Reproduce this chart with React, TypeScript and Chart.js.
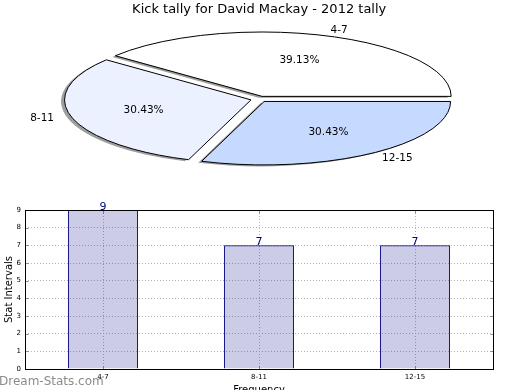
import React, { useEffect, useRef } from 'react';
import { Chart, registerables } from 'chart.js';

Chart.register(...registerables);

// ---- data ----
const chartTitle = 'Kick tally for David Mackay - 2012 tally';
const categories = ['4-7', '8-11', '12-15'];
const tally = [9, 7, 7];
const yMin = 0;
const yMax = 9;
const yStep = 1;
const yAxisTitle = 'Stat Intervals';
const xAxisTitle = 'Frequency';
const watermark = 'Dream-Stats.com';

// ---- styles ----
const pieColors = ['#FFFFFF', '#EBF1FF', '#C6D9FF'];
const FONT = '"DejaVu Sans", sans-serif';
const ELLIPSE_K = 64 / 188;
const NAVY = '#000080';

function ellipseTransform(ctx: CanvasRenderingContext2D, cx: number, cy: number) {
  ctx.translate(cx, cy);
  ctx.scale(1, -ELLIPSE_K);
  ctx.translate(-cx, -cy);
}

const pieEllipsePlugin = {
  id: 'pieEllipse',
  beforeDatasetsDraw(chart: any) {
    const arcs = chart.getDatasetMeta(0).data;
    const ctx: CanvasRenderingContext2D = chart.ctx;
    ctx.save();
    ellipseTransform(ctx, arcs[0].x, arcs[0].y);
    ctx.shadowColor = 'rgba(40,40,40,0.45)';
    ctx.shadowOffsetX = -3.5;
    ctx.shadowOffsetY = 1.5;
    ctx.shadowBlur = 0.5;
  },
  afterDatasetsDraw(chart: any) {
    const ctx: CanvasRenderingContext2D = chart.ctx;
    ctx.restore();
    const ds = chart.data.datasets[0];
    const values: number[] = ds.data;
    const total = values.reduce((a, b) => a + b, 0);
    const labels: string[] = chart.data.labels;
    const arcs = chart.getDatasetMeta(0).data;
    arcs.forEach((arc: any, i: number) => {
      const { x, y, startAngle, endAngle, outerRadius } = arc;
      const off = (arc.options.offset || 0) / 4;
      const h = (startAngle + endAngle) / 2;
      const fix = 1 - Math.sin(Math.min(Math.PI, endAngle - startAngle));
      const r = outerRadius + off * fix;
      // outline with uniform line width
      ctx.save();
      ellipseTransform(ctx, x, y);
      ctx.translate(Math.cos(h) * off, Math.sin(h) * off);
      ctx.beginPath();
      ctx.moveTo(x, y);
      ctx.arc(x, y, r, startAngle, endAngle);
      ctx.closePath();
      ctx.restore();
      ctx.save();
      ctx.lineWidth = 1;
      ctx.strokeStyle = '#000';
      ctx.stroke();
      ctx.restore();
      // labels
      const wx = x + Math.cos(h) * off;
      const wy = y - ELLIPSE_K * Math.sin(h) * off;
      const R = outerRadius;
      ctx.save();
      ctx.fillStyle = '#000';
      ctx.font = `10.5px ${FONT}`;
      ctx.textBaseline = 'middle';
      const lx = wx + 1.1 * R * Math.cos(h);
      const ly = wy - ELLIPSE_K * 1.1 * R * Math.sin(h);
      ctx.textAlign = Math.cos(h) > 0 ? 'left' : 'right';
      ctx.fillText(labels[i], lx, ly);
      const px = wx + 0.6 * R * Math.cos(h);
      const py = wy - ELLIPSE_K * 0.6 * R * Math.sin(h);
      ctx.textAlign = 'center';
      ctx.fillText(((values[i] / total) * 100).toFixed(2) + '%', px, py);
      ctx.restore();
    });
  },
};

const barDecorPlugin = {
  id: 'barDecor',
  beforeDraw(chart: any) {
    const ctx: CanvasRenderingContext2D = chart.ctx;
    ctx.save();
    ctx.fillStyle = '#8c8c8c';
    ctx.font = `12px ${FONT}`;
    ctx.textAlign = 'left';
    ctx.textBaseline = 'alphabetic';
    ctx.fillText(watermark, -1, 195);
    ctx.restore();
  },
  afterDatasetsDraw(chart: any) {
    const ctx: CanvasRenderingContext2D = chart.ctx;
    const area = chart.chartArea;
    const meta = chart.getDatasetMeta(0);
    const values: number[] = chart.data.datasets[0].data;
    ctx.save();
    ctx.fillStyle = NAVY;
    ctx.font = `11px ${FONT}`;
    ctx.textAlign = 'center';
    ctx.textBaseline = 'alphabetic';
    meta.data.forEach((bar: any, i: number) => {
      ctx.fillText(String(values[i]), bar.x, bar.y - 0.5);
    });
    ctx.restore();
    // tick marks inside
    const ys = chart.scales.y;
    const xs = chart.scales.x;
    const L = Math.round(area.left) + 0.5;
    const Rr = Math.round(area.right) + 0.5;
    const T = Math.round(area.top) + 0.5;
    const B = Math.round(area.bottom) + 0.5;
    ctx.save();
    ctx.strokeStyle = '#444';
    ctx.lineWidth = 0.6;
    ctx.beginPath();
    ys.ticks.forEach((t: any) => {
      const py = Math.round(ys.getPixelForValue(t.value)) + 0.5;
      ctx.moveTo(L, py); ctx.lineTo(L + 3, py);
      ctx.moveTo(Rr, py); ctx.lineTo(Rr - 3, py);
    });
    xs.ticks.forEach((t: any, i: number) => {
      const px = Math.round(xs.getPixelForTick(i)) + 0.5;
      ctx.moveTo(px, B); ctx.lineTo(px, B - 3);
      ctx.moveTo(px, T); ctx.lineTo(px, T + 3);
    });
    ctx.stroke();
    ctx.restore();
    // frame
    ctx.save();
    ctx.strokeStyle = '#000';
    ctx.lineWidth = 1;
    ctx.strokeRect(L, T, Rr - L, B - T);
    ctx.restore();
  },
};

export default function App() {
  const pieRef = useRef<HTMLCanvasElement>(null);
  const barRef = useRef<HTMLCanvasElement>(null);

  useEffect(() => {
    const pie = new Chart(pieRef.current as HTMLCanvasElement, {
      type: 'pie',
      data: {
        labels: categories,
        datasets: [
          {
            data: tally,
            backgroundColor: pieColors,
            borderWidth: 0,
            offset: 34,
            hoverOffset: 0,
            rotation: 90,
            radius: 186,
            clip: false,
          } as any,
        ],
      },
      options: {
        responsive: false,
        animation: false,
        devicePixelRatio: 1,
        events: [],
        layout: { padding: { top: 0, left: 0, right: 1.6, bottom: 9.4 } },
        plugins: {
          legend: { display: false },
          tooltip: { enabled: false },
          title: {
            display: true,
            text: chartTitle,
            color: '#000',
            font: { family: FONT, size: 13, weight: 'normal' },
            padding: { top: 2, bottom: 0 },
          },
        },
      } as any,
      plugins: [pieEllipsePlugin],
    });

    const bar = new Chart(barRef.current as HTMLCanvasElement, {
      type: 'bar',
      data: {
        labels: categories,
        datasets: [
          {
            data: tally,
            backgroundColor: 'rgba(0,0,128,0.2)',
            borderColor: NAVY,
            borderWidth: 1,
            barPercentage: 0.45,
            categoryPercentage: 1,
          },
        ],
      },
      options: {
        responsive: false,
        animation: false,
        devicePixelRatio: 1,
        events: [],
        layout: { padding: { top: 20, right: 27, left: 0, bottom: 0 } },
        plugins: {
          legend: { display: false },
          tooltip: { enabled: false },
        },
        scales: {
          x: {
            grid: { offset: false, color: '#b4b4b4', lineWidth: 1, drawTicks: false },
            border: { display: false, dash: [1, 2] },
            ticks: { color: '#000', font: { family: FONT, size: 7 }, padding: 4, maxRotation: 0 },
            title: {
              display: true,
              text: xAxisTitle,
              color: '#000',
              font: { family: FONT, size: 10 },
              padding: { top: 0, bottom: 4 },
            },
            afterFit: (s: any) => {
              s.height = 31;
            },
          },
          y: {
            min: yMin,
            max: yMax,
            grid: { color: '#b4b4b4', lineWidth: 1, drawTicks: false },
            border: { display: false, dash: [1, 2] },
            ticks: { stepSize: yStep, color: '#000', font: { family: FONT, size: 7 }, padding: 4 },
            title: {
              display: true,
              text: yAxisTitle,
              color: '#000',
              font: { family: FONT, size: 10 },
              padding: { top: 3, bottom: 0 },
            },
            afterFit: (s: any) => {
              s.width = 25;
            },
          },
        },
      } as any,
      plugins: [barDecorPlugin],
    });

    return () => {
      pie.destroy();
      bar.destroy();
    };
  }, []);

  return (
    <div
      style={{
        position: 'fixed',
        left: 0,
        top: 0,
        width: 520,
        height: 390,
        overflow: 'hidden',
        background: '#fff',
      }}
    >
      <canvas
        ref={pieRef}
        width={520}
        height={190}
        style={{ position: 'absolute', left: 0, top: 0, width: 520, height: 190 }}
      />
      <canvas
        ref={barRef}
        width={520}
        height={210}
        style={{ position: 'absolute', left: 0, top: 190, width: 520, height: 210 }}
      />
    </div>
  );
}
